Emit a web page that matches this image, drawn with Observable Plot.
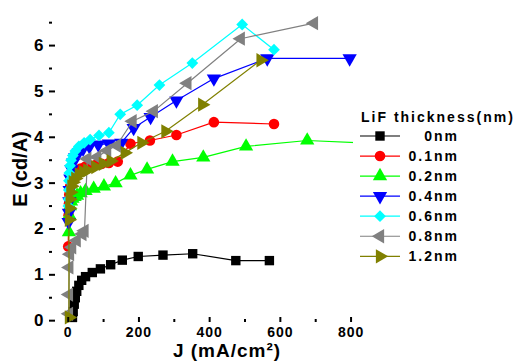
<!DOCTYPE html>
<html><head><meta charset="utf-8">
<script src="https://cdn.jsdelivr.net/npm/d3@7"></script>
<script src="https://cdn.jsdelivr.net/npm/@observablehq/plot@0.6"></script>
<style>
body{margin:0;background:#fff}
#chart{position:relative;width:515px;height:361px}
g[aria-label="x-axis tick label"] text{letter-spacing:1px}
</style>
</head><body><div id="chart"></div>
<script>
// ---- data ----
const seriesNames = ["0nm","0.1nm","0.2nm","0.4nm","0.6nm","0.8nm","1.2nm"];
const seriesColors = ["#000000","#ff0000","#00ff00","#0000ff","#00ffff","#808080","#808000"];

const J_0nm = [12,14,17,20,24,30,38,49,68,91,120,153,198,268,352,474,569];
const E_0nm = [0.07,0.2,0.36,0.5,0.64,0.77,0.88,0.96,1.05,1.13,1.22,1.32,1.40,1.43,1.46,1.31,1.31];

const J_01nm = [0,1,2,3,5,8,12,18,25,35,48,62,78,95,115,140,176,231,306,412,582];
const E_01nm = [1.62,2.3,2.55,2.75,2.92,3.05,3.15,3.22,3.28,3.32,3.36,3.38,3.4,3.42,3.44,3.47,3.86,3.93,4.05,4.33,4.29];

const J_02nm = [2,3,5,8,12,18,25,35,49,72,101,134,176,223,295,382,503,676,830];
const E_02nm = [1.93,2.3,2.5,2.6,2.66,2.7,2.73,2.78,2.83,2.88,2.93,3.0,3.17,3.3,3.47,3.56,3.8,3.93,3.88];

const J_04nm = [1,2,3,4,6,9,14,20,30,42,60,85,115,150,185,233,306,412,563,796];
const E_04nm = [2.15,2.35,2.6,2.85,3.1,3.3,3.45,3.57,3.67,3.75,3.8,3.84,3.86,3.88,4.2,4.44,4.8,5.28,5.72,5.72];

const J_06nm = [0.5,1,1.5,2,3,5,8,13,20,30,45,62,87,115,147,195,258,351,492,582];
const E_06nm = [2.5,2.65,2.85,3.05,3.22,3.38,3.5,3.6,3.7,3.8,3.88,3.95,4.04,4.1,4.5,4.7,5.14,5.62,6.46,5.91];

const J_08nm = [2,2,3,5,11,24,40,46,54,82,110,137,182,242,337,488,695];
const E_08nm = [0.15,0.57,1.16,1.45,1.6,1.75,1.89,1.96,3.53,3.57,3.71,3.82,4.35,4.57,5.18,6.15,6.49];

const J_12nm = [2,2,3,4,6,9,13,20,30,42,54,77,98,120,160,207,275,379,544];
const E_12nm = [0.07,2.2,2.45,2.65,2.8,2.93,3.02,3.1,3.19,3.24,3.28,3.35,3.42,3.48,3.66,3.88,4.13,4.71,5.68];

const xTicks = [0,200,400,600,800];
const xMinorTicks = [100,300,500,700];
const yTicks = [0,1,2,3,4,5,6];
const yMinorTicks = [0.5,1.5,2.5,3.5,4.5,5.5,6.5];
const xLabel = "J (mA/cm²)";
const yLabel = "E (cd/A)";
const legendTitle = "LiF thickness(nm)";

// ---- symbols ----
function tri(angle){
  return {draw(ctx,size){
    const y = -Math.sqrt(size/(Math.sqrt(3)*3));
    const pts = [[0,2*y],[-Math.sqrt(3)*y,-y],[Math.sqrt(3)*y,-y]];
    const c = Math.cos(angle), s = Math.sin(angle);
    pts.forEach(([px,py],i)=>{const X=px*c-py*s, Y=px*s+py*c; if(i) ctx.lineTo(X,Y); else ctx.moveTo(X,Y);});
    ctx.closePath();
  }};
}
const symbols = [d3.symbolSquare, d3.symbolCircle, tri(0), tri(Math.PI), d3.symbolDiamond2, tri(-Math.PI/2), tri(Math.PI/2)];

const Js = [J_0nm,J_01nm,J_02nm,J_04nm,J_06nm,J_08nm,J_12nm];
const Es = [E_0nm,E_01nm,E_02nm,E_04nm,E_06nm,E_08nm,E_12nm];

const R = 5.3;
const marks = [];
seriesNames.forEach((name,i)=>{
  const data = Js[i].map((j,k)=>({J:j,E:Es[i][k]}));
  marks.push(Plot.line(data,{x:"J",y:"E",stroke:seriesColors[i],strokeWidth:1.2}));
  marks.push(Plot.dot(data,{x:"J",y:"E",fill:seriesColors[i],stroke:"none",r:R,symbol:symbols[i]}));
});

marks.push(
  Plot.axisX({ticks:xTicks, tickSize:-5, tickPadding:10, strokeWidth:2, line:true, label:null, fontSize:14, fontWeight:"bold", tickFormat:d3.format("d")}),
  Plot.axisX({ticks:xMinorTicks, tickSize:-3, tickFormat:()=>"", strokeWidth:2, label:null}),
  Plot.axisY({ticks:yTicks, tickSize:-6, tickPadding:12, strokeWidth:2, line:true, label:null, fontSize:17, fontWeight:"bold", tickFormat:d3.format("d")}),
  Plot.axisY({ticks:yMinorTicks, tickSize:-3, tickFormat:()=>"", strokeWidth:2, label:null})
);

const chart = Plot.plot({
  width:515, height:361,
  marginLeft:49, marginRight:110, marginTop:13, marginBottom:39,
  x:{domain:[-53,954]},
  y:{domain:[-0.04,6.7]},
  style:{fontFamily:"'Liberation Sans', Arial, sans-serif", background:"white", color:"black", overflow:"visible"},
  marks
});
document.getElementById("chart").appendChild(chart);

// ---- axis titles and legend ----
const svg = d3.select(chart);
const FONT = "'Liberation Sans', Arial, sans-serif";
svg.append("text").attr("x",227).attr("y",357).attr("text-anchor","middle")
  .attr("font-family",FONT).attr("font-size",19).attr("font-weight","bold").attr("letter-spacing","1px")
  .attr("fill","black").text(xLabel);
svg.append("text").attr("transform","translate(27,169) rotate(-90)").attr("text-anchor","middle")
  .attr("font-family",FONT).attr("font-size",20).attr("font-weight","bold")
  .attr("fill","black").text(yLabel);

const lg = svg.append("g");
lg.append("rect").attr("x",353).attr("y",100).attr("width",162).attr("height",170).attr("fill","white");
lg.append("text").attr("x",361).attr("y",122).attr("text-anchor","start").attr("font-family",FONT).attr("font-size",14)
  .attr("font-weight","bold").attr("letter-spacing","2px").attr("fill","black").text(legendTitle);
seriesNames.forEach((name,i)=>{
  const y = 136 + i*20.05;
  lg.append("line").attr("x1",360).attr("x2",400).attr("y1",y).attr("y2",y)
    .attr("stroke",seriesColors[i]).attr("stroke-width",1.2);
  lg.append("path").attr("transform",`translate(380,${y})`)
    .attr("d",d3.symbol(symbols[i], Math.PI*R*R)()).attr("fill",seriesColors[i]);
  lg.append("text").attr("x",459).attr("y",y+5).attr("text-anchor","end")
    .attr("font-family",FONT).attr("font-size",14).attr("font-weight","bold").attr("letter-spacing","2px")
    .attr("fill","black").text(name);
});
</script>
</body></html>
